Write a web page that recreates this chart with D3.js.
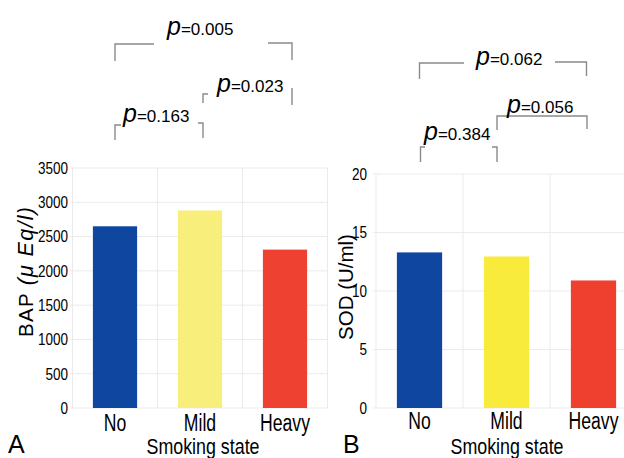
<!DOCTYPE html>
<html>
<head>
<meta charset="utf-8">
<script src="https://cdn.jsdelivr.net/npm/d3@7"></script>
<style>
  body { margin: 0; background: #fff; }
  svg { display: block; font-family: "Liberation Sans", Arial, sans-serif; }
</style>
</head>
<body>
<div id="chart-holder"></div>
<script>
// values
const categories = ["No", "Mild", "Heavy"];
const bapValues = [2650, 2880, 2310];
const sodValues = [13.3, 12.95, 10.9];
const bapTicks = [0, 500, 1000, 1500, 2000, 2500, 3000, 3500];
const sodTicks = [0, 5, 10, 15, 20];
const comparePairs = [["No", "Heavy"], ["Mild", "Heavy"], ["No", "Mild"]];
const bapPValues = ["0.005", "0.023", "0.163"];
const sodPValues = ["0.062", "0.056", "0.384"];
const xTitle = "Smoking state";

const width = 624;
const height = 458;

const svg = d3
  .select("#chart-holder")
  .append("svg")
  .attr("width", width)
  .attr("height", height);

const panels = [
  {
    letter: "A",
    values: bapValues,
    ticks: bapTicks,
    pValues: bapPValues,
    xRange: [72.5, 327.5],
    yDomain: [0, 3500],
    yRange: [408, 168],
    gridX: [70, 327],
    tickRight: 68,
    colors: ["#0f47a0", "#f8ee7c", "#ee4131"],
    labelY: 431,
    titleX: 203,
    titleY: 454,
    letterX: 8,
    yTitle: { x: 33, y: 272 },
    brackets: [
      { dx: [0, 7], y: [44, 43], leg: [61, 60], gap: [154, 268], tx: 167, ty: 35 },
      { dx: [3, 7], y: [94, 88], leg: [103, 105], gap: [208, 300], tx: 217, ty: 92 },
      { dx: [0, 3], y: [125, 123], leg: [140, 138], gap: [121, 198], tx: 123, ty: 122 }
    ]
  },
  {
    letter: "B",
    values: sodValues,
    ticks: sodTicks,
    pValues: sodPValues,
    xRange: [376, 637],
    yDomain: [0, 20],
    yRange: [408, 174],
    gridX: [373, 624],
    tickRight: 367,
    colors: ["#0f47a0", "#f9eb3c", "#ee3f2f"],
    labelY: 429,
    titleX: 507,
    titleY: 454,
    letterX: 343,
    yTitle: { x: 353, y: 287 },
    brackets: [
      { dx: [0, -7], y: [63, 62], leg: [79, 76], gap: [464, 555], tx: 476, ty: 65 },
      { dx: [-9.5, -6.5], y: [116, 116], leg: [130, 129], gap: null, tx: 507, ty: 113 },
      { dx: [1, -9.5], y: [147, 147], leg: [162, 162], gap: [425, 492], tx: 424, ty: 140 }
    ]
  }
];

panels.forEach((p, pi) => {
  const x = d3
    .scaleBand()
    .domain(categories)
    .range(p.xRange)
    .paddingInner(0.48)
    .paddingOuter(0.24);

  const y = d3.scaleLinear().domain(p.yDomain).range(p.yRange);
  const g = svg.append("g");

  // grid
  g.selectAll(".hgrid")
    .data(p.ticks)
    .enter()
    .append("line")
    .attr("x1", p.gridX[0])
    .attr("x2", p.gridX[1])
    .attr("y1", (d) => y(d))
    .attr("y2", (d) => y(d))
    .attr("stroke", "#ebebeb")
    .attr("stroke-width", 1);

  const step = x.step();
  const bounds = categories.map((c) => x(c) + x.bandwidth() / 2 - step / 2);
  bounds.push(bounds[bounds.length - 1] + step);
  g.selectAll(".vgrid")
    .data(bounds.filter((b) => b <= width))
    .enter()
    .append("line")
    .attr("x1", (d) => d)
    .attr("x2", (d) => d)
    .attr("y1", y(p.yDomain[1]))
    .attr("y2", y(0))
    .attr("stroke", "#ebebeb")
    .attr("stroke-width", 1);

  // bars
  g.selectAll("rect")
    .data(p.values)
    .enter()
    .append("rect")
    .attr("x", (d, i) => x(categories[i]))
    .attr("y", (d) => y(d))
    .attr("width", x.bandwidth())
    .attr("height", (d) => y(0) - y(d))
    .attr("fill", (d, i) => p.colors[i]);

  // y axis
  const yAxis = g
    .append("g")
    .attr("transform", `translate(${p.tickRight},0)`)
    .call(
      d3.axisLeft(y)
        .tickValues(p.ticks)
        .tickFormat(d3.format("d"))
        .tickSize(0)
        .tickPadding(0)
    );
  yAxis.select(".domain").remove();
  yAxis
    .selectAll("text")
    .attr("font-family", "Liberation Sans, Arial, sans-serif")
    .attr("font-size", 16.5)
    .attr("fill", "#000")
    .attr("transform", "scale(0.82,1)");

  // x axis
  const xAxis = g
    .append("g")
    .attr("transform", `translate(0,${p.labelY})`)
    .call(d3.axisBottom(x).tickSize(0).tickPadding(0));
  xAxis.select(".domain").remove();
  xAxis
    .selectAll("text")
    .attr("dy", 0)
    .attr("y", 0)
    .attr("font-family", "Liberation Sans, Arial, sans-serif")
    .attr("font-size", 23.5)
    .attr("fill", "#000")
    .attr("transform", "scale(0.75,1)");

  g.append("text")
    .attr("transform", `translate(${p.titleX},${p.titleY}) scale(0.83,1)`)
    .attr("text-anchor", "middle")
    .attr("font-size", 21.5)
    .attr("fill", "#000")
    .text(xTitle);

  g.append("text")
    .attr("x", p.letterX)
    .attr("y", 453)
    .attr("font-size", 25)
    .attr("fill", "#000")
    .text(p.letter);

  // y title
  const yt = g
    .append("text")
    .attr("transform", `translate(${p.yTitle.x},${p.yTitle.y}) rotate(-90)`)
    .attr("text-anchor", "middle")
    .attr("font-size", 20.5)
    .attr("fill", "#000");
  if (pi === 0) {
    yt.attr("textLength", 130).attr("lengthAdjust", "spacing");
    yt.append("tspan").text("BAP ");
    yt.append("tspan").attr("font-style", "italic").attr("font-size", 21.5).text("(\u03bc Eq/l)");
  } else {
    yt.text("SOD (U/ml)");
  }

  // significance brackets
  p.brackets.forEach((b, bi) => {
    const pair = comparePairs[bi];
    const x1 = x(pair[0]) + x.bandwidth() / 2 + b.dx[0];
    const x2 = x(pair[1]) + x.bandwidth() / 2 + b.dx[1];
    const path = d3.path();
    if (b.gap) {
      path.moveTo(x1, b.leg[0]);
      path.lineTo(x1, b.y[0]);
      path.lineTo(b.gap[0], b.y[0]);
      if (b.gap[1] < x2) {
        path.moveTo(b.gap[1], b.y[1]);
        path.lineTo(x2, b.y[1]);
        path.lineTo(x2, b.leg[1]);
      } else {
        path.moveTo(x2, b.y[1]);
        path.lineTo(x2, b.leg[1]);
      }
    } else {
      path.moveTo(x1, b.leg[0]);
      path.lineTo(x1, b.y[0]);
      path.lineTo(x2, b.y[1]);
      path.lineTo(x2, b.leg[1]);
    }
    g.append("path")
      .attr("d", path.toString())
      .attr("fill", "none")
      .attr("stroke", "#8a8a8a")
      .attr("stroke-width", 1.4);

    const t = g
      .append("text")
      .attr("x", b.tx)
      .attr("y", b.ty)
      .attr("fill", "#000");
    t.append("tspan").attr("font-style", "italic").attr("font-size", 25).text("p");
    t.append("tspan").attr("font-size", 17).text("=" + p.pValues[bi]);
  });
});
</script>
</body>
</html>
